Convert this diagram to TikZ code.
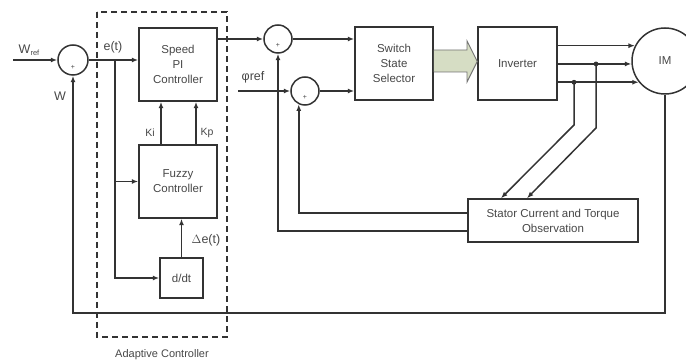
\documentclass[tikz,border=0pt]{standalone}
\usepackage{fontspec}
\setmainfont{Liberation Sans}
\usetikzlibrary{arrows.meta,calc}
\definecolor{linec}{gray}{0.2}
\definecolor{textc}{gray}{0.28}
\definecolor{arrowfill}{RGB}{214,221,196}
\begin{document}
\begin{tikzpicture}[x=1pt,y=-1pt,line width=1.5pt,color=linec,
  >={Latex[length=6.5pt,width=5pt]},
  box/.style={draw=linec,line width=1.5pt,inner sep=0pt,align=center,text=textc,
    font=\fontsize{11.5}{15}\selectfont},
  sumc/.style={draw=linec,line width=1.5pt,circle,inner sep=0pt,minimum size=#1},
  lbl/.style={text=textc,inner sep=0pt,font=\fontsize{12.5}{14}\selectfont},
  plus/.style={text=textc,inner sep=0pt,font=\fontsize{7}{8}\selectfont}]
\useasboundingbox (0,0) rectangle (686,363);

% dashed adaptive controller frame
\draw[dash pattern=on 6pt off 4pt,line width=1.5pt] (97,12) rectangle (227,337);
\node[text=textc,font=\fontsize{11}{13}\selectfont] (adc) at (162,355) {Adaptive Controller};

% blocks
\node[box,minimum width=78pt,minimum height=73pt] (pi) at (178,64.5) {Speed\\PI\\Controller};
\node[box,minimum width=78pt,minimum height=73pt] (fz) at (178,181.5) {Fuzzy\\Controller};
\node[box,minimum width=43pt,minimum height=40pt] (dd) at (181.5,278) {d/dt};
\node[box,minimum width=78pt,minimum height=73pt] (sw) at (394,63.5) {Switch\\State\\Selector};
\node[box,minimum width=79pt,minimum height=73pt] (inv) at (517.5,63.5) {Inverter};
\node[box,minimum width=170pt,minimum height=43pt] (st) at (553,220.5) {Stator Current and Torque\\Observation};

% summing junctions
\node[sumc=30pt] (c1) at (73,60) {};
\node[sumc=28pt] (c2) at (278,39) {};
\node[sumc=28pt] (c3) at (305,91) {};
\node[sumc=66pt,text=textc,font=\fontsize{11.5}{13}\selectfont] (IM) at (665,61) {IM};
\node[plus] (p1) at (73,67) {+};
\node[plus] (p2) at (278,45) {+};
\node[plus] (p3) at (305,97) {+};

% labels
\node[lbl] (wref) at (29,50) {W\raisebox{-0.35ex}{\fontsize{7.5}{8}\selectfont ref}};
\node[lbl] (wl) at (60,96) {W};
\node[lbl] (et) at (113,47) {e(t)};
\node[lbl,font=\fontsize{10.5}{12}\selectfont] (ki) at (150,133) {Ki};
\node[lbl,font=\fontsize{10.5}{12}\selectfont] (kp) at (207,133) {Kp};
\node[lbl] (de) at (206,240) {$\Delta$e(t)};
\node[lbl] (phl) at (253,77) {φref};

% reference input and feedback
\coordinate (win) at (13,60);
\draw[->] (win) -- (c1.west);
\draw[->] (IM.south) -- (IM.south |- 0,313) -| (c1.south);

% error signal and branches
\draw[->] (c1.east) -- (pi.west |- c1.east);
\coordinate (b) at (115,60);
\draw[->] (b) |- (dd.west);
\draw[->] (b |- fz.west) -- (fz.west);

% gains
\draw[->] (fz.north -| 161,0) -- (pi.south -| 161,0);
\draw[->] (fz.north -| 196,0) -- (pi.south -| 196,0);
\draw[->] (dd.north) -- (dd.north |- fz.south);

% to switch state selector
\draw[->] (pi.east |- c2.west) -- (c2.west);
\draw[->] (c2.east) -- (sw.west |- c2.east);
\coordinate (phi) at (238,91);
\draw[->] (phi) -- (c3.west);
\draw[->] (c3.east) -- (sw.west |- c3.east);

% observer feedback
\draw[->] (st.west |- 0,213) -| (c3.245);
\draw[->] (st.west |- 0,231) -| (c2.south);

% big arrow
\draw[draw=black!55,fill=arrowfill,line width=0.9pt]
  (sw.east |- 0,50) -- (467,50) -- (467,41) -- (inv.west |- 0,61.5)
  -- (467,82) -- (467,72) -- (sw.east |- 0,72);

% inverter to motor
\draw[->] (inv.east |- IM.153) -- (IM.153);
\draw[->] (inv.east |- IM.185) -- (IM.185);
\draw[->] (inv.east |- IM.219) -- (IM.219);

% measurement taps
\coordinate (d1) at (596,0 |- IM.185);
\coordinate (d2) at (574,0 |- IM.219);
\fill (d1) circle (2.4pt);
\fill (d2) circle (2.4pt);
\coordinate (k1) at (596,128);
\coordinate (k2) at (574,125);
\draw[->] (d1) -- (k1) -- (st.north -| 527,0);
\draw[->] (d2) -- (k2) -- (st.north -| 501,0);
\end{tikzpicture}
\end{document}
